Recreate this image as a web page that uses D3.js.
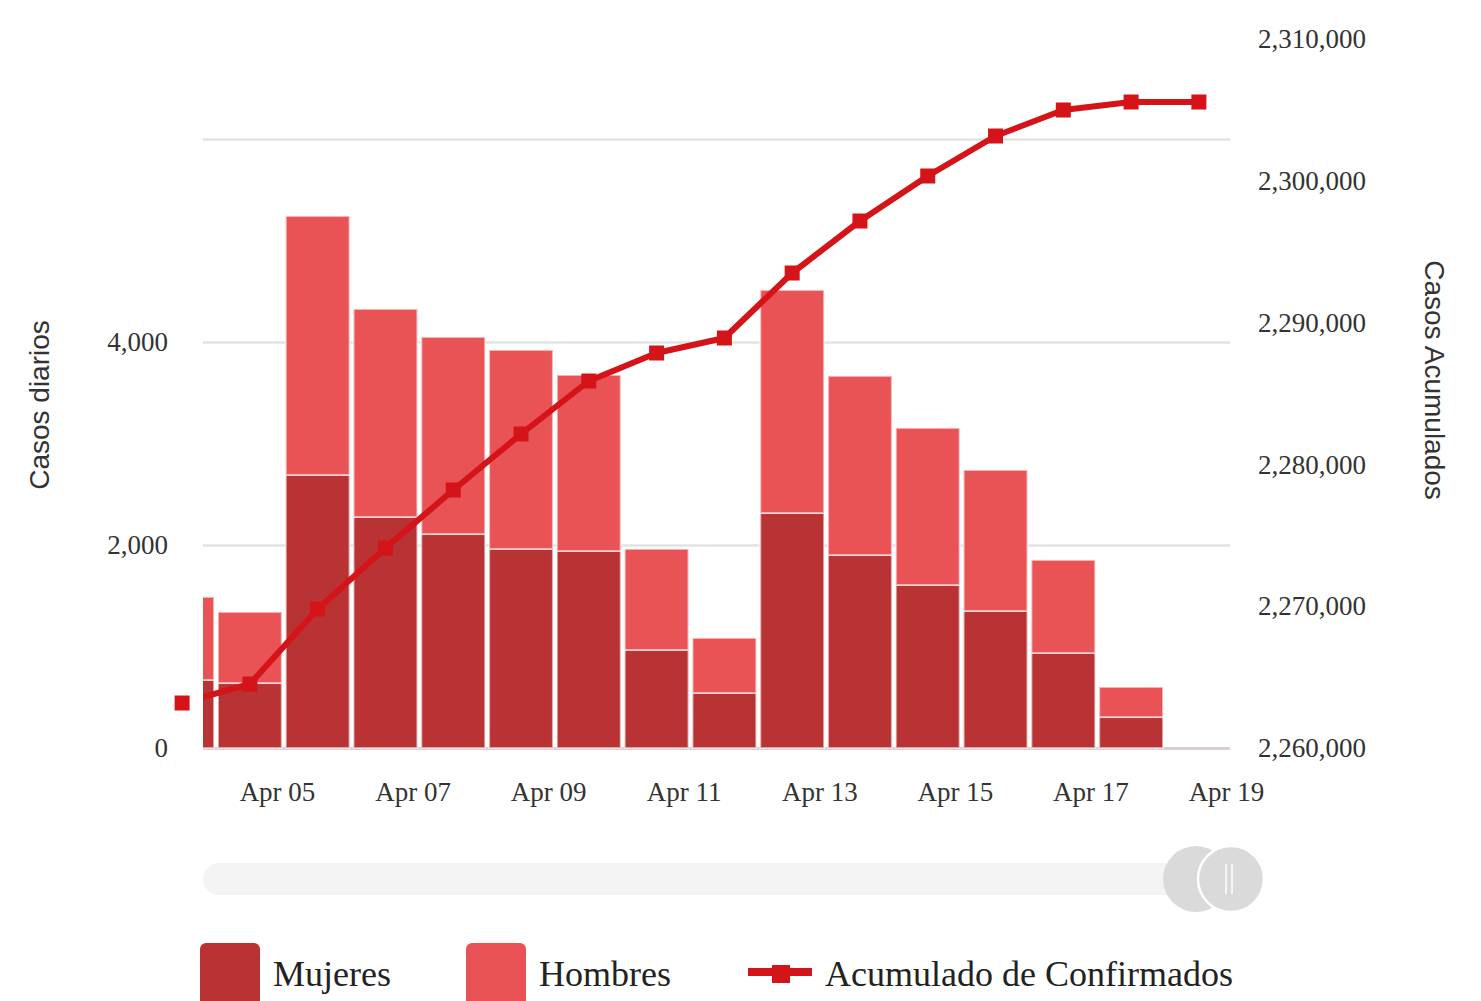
<!DOCTYPE html>
<html>
<head>
<meta charset="utf-8">
<script src="https://cdn.jsdelivr.net/npm/d3@7"></script>
<style>
  html, body { margin: 0; padding: 0; background: #fff; overflow: hidden; }
  svg { display: block; }
</style>
</head>
<body>
<svg id="chart" width="1481" height="1001"></svg>
<script>
// ---------- DATA ----------
const dates = ["2021-04-03","2021-04-04","2021-04-05","2021-04-06","2021-04-07","2021-04-08","2021-04-09","2021-04-10",
               "2021-04-11","2021-04-12","2021-04-13","2021-04-14","2021-04-15","2021-04-16","2021-04-17","2021-04-18"];
const mujeres = [670, 640, 2690, 2276, 2108, 1961, 1941, 966, 542, 2315, 1901, 1606, 1350, 936, 305, 0];
const hombres = [818, 700, 2551, 2049, 1941, 1960, 1734, 995, 542, 2197, 1764, 1547, 1389, 916, 296, 0];
const acumulado = [2263173, 2264513, 2269803, 2274104, 2278195, 2282144, 2285881, 2287856, 2288914,
                   2293498, 2297165, 2300339, 2303159, 2304993, 2305557, 2305557];
const xTickLabels = ["2021-04-05","2021-04-07","2021-04-09","2021-04-11","2021-04-13","2021-04-15","2021-04-17","2021-04-19"];
const leftTicks = [0, 2000, 4000];
const leftGrid = [0, 2000, 4000, 6000];
const rightTicks = [2260000, 2270000, 2280000, 2290000, 2300000, 2310000];
const seriesNames = ["Mujeres", "Hombres", "Acumulado de Confirmados"];
const colors = { mujeres: "#b93234", hombres: "#e95356", line: "#d41418" };

// ---------- LAYOUT ----------
const svg = d3.select("#chart");
const plot = { left: 203, right: 1230, top: 37.5, bottom: 748 };
const parse = d3.timeParse("%Y-%m-%d");
const data = dates.map((d, i) => ({ date: parse(d), m: mujeres[i], h: hombres[i], acc: acumulado[i] }));

const x = d3.scaleTime()
  .domain([parse("2021-04-05"), parse("2021-04-19")])
  .range([277, 1226]);
const cellShift = 0.6 * 864e5; // columns sit 0.6 day after the date tick
const xc = d => x(new Date(+d + cellShift));
const dayW = x(parse("2021-04-06")) - x(parse("2021-04-05"));
const barW = dayW - 4;

const yL = d3.scaleLinear().domain([0, 7000]).range([plot.bottom, plot.top]);
const yR = d3.scaleLinear().domain([2260000, 2310000]).range([plot.bottom, 39]);

const serif = "'Liberation Serif', 'Times New Roman', serif";
const sans = "'Liberation Sans', Arial, sans-serif";

svg.append("defs").append("clipPath").attr("id", "plotClip")
  .append("rect").attr("x", plot.left).attr("y", 0)
  .attr("width", plot.right - plot.left).attr("height", plot.bottom + 3);

// gridlines
const grid = svg.append("g").attr("transform", `translate(${plot.left},0)`)
  .call(d3.axisLeft(yL).tickValues(leftGrid).tickSize(-(plot.right - plot.left)).tickFormat(""));
grid.select(".domain").remove();
grid.selectAll(".tick line").attr("stroke", "#e3e3e3").attr("stroke-width", 2.5);
grid.selectAll(".tick").filter(d => d === 0).select("line").attr("stroke", "#dccfd0").attr("stroke-width", 3);

// bars
const bars = svg.append("g").attr("clip-path", "url(#plotClip)");
bars.selectAll("rect.m").data(data.filter(d => d.m > 0)).join("rect")
  .attr("class", "m")
  .attr("x", d => xc(d.date) - barW / 2)
  .attr("width", barW)
  .attr("y", d => yL(d.m))
  .attr("height", d => yL(0) - yL(d.m))
  .attr("fill", colors.mujeres)
  .attr("stroke", "rgba(255,255,255,0.55)").attr("stroke-width", 2);
bars.selectAll("rect.h").data(data.filter(d => d.h > 0)).join("rect")
  .attr("class", "h")
  .attr("x", d => xc(d.date) - barW / 2)
  .attr("width", barW)
  .attr("y", d => yL(d.m + d.h))
  .attr("height", d => yL(d.m) - yL(d.m + d.h))
  .attr("fill", colors.hombres)
  .attr("stroke", "rgba(255,255,255,0.55)").attr("stroke-width", 2);

// cumulative line
const line = d3.line().x(d => xc(d.date)).y(d => yR(d.acc));
svg.append("path").datum(data)
  .attr("clip-path", "url(#plotClip)")
  .attr("d", line)
  .attr("fill", "none")
  .attr("stroke", colors.line)
  .attr("stroke-width", 6)
  .attr("stroke-linejoin", "round");
const mk = 15;
svg.append("g").selectAll("rect").data(data).join("rect")
  .attr("x", d => xc(d.date) - mk / 2)
  .attr("y", d => yR(d.acc) - mk / 2)
  .attr("width", mk).attr("height", mk)
  .attr("fill", colors.line);

// axes
function styleAxis(g, size) {
  g.select(".domain").remove();
  g.selectAll(".tick line").remove();
  g.selectAll("text").attr("font-family", serif).attr("font-size", size).attr("fill", "#333");
}
svg.append("g").attr("transform", `translate(${plot.left},0)`)
  .call(d3.axisLeft(yL).tickValues(leftTicks).tickSize(0).tickPadding(35).tickFormat(d3.format(",")))
  .call(g => styleAxis(g, 27));
svg.append("g").attr("transform", `translate(${plot.right},0)`)
  .call(d3.axisRight(yR).tickValues(rightTicks).tickSize(0).tickPadding(28).tickFormat(d3.format(",")))
  .call(g => styleAxis(g, 27));
svg.append("g").attr("transform", `translate(0,${plot.bottom})`)
  .call(d3.axisBottom(x).tickValues(xTickLabels.map(parse)).tickSize(0).tickPadding(34).tickFormat(d3.timeFormat("%b %d")))
  .call(g => styleAxis(g, 27));

// axis titles
svg.append("text")
  .attr("transform", "translate(49,405) rotate(-90)")
  .attr("text-anchor", "middle")
  .attr("font-family", sans).attr("font-size", 28).attr("fill", "#333")
  .text("Casos diarios");
svg.append("text")
  .attr("transform", "translate(1425,380) rotate(90)")
  .attr("text-anchor", "middle")
  .attr("font-family", sans).attr("font-size", 28).attr("fill", "#333")
  .text("Casos Acumulados");

// scrollbar
const sb = svg.append("g");
sb.append("rect").attr("x", plot.left).attr("y", 863).attr("width", 1030).attr("height", 32)
  .attr("rx", 16).attr("fill", "#f4f4f4");
sb.append("circle").attr("cx", 1196).attr("cy", 879).attr("r", 33).attr("fill", "#dadada");
sb.append("circle").attr("cx", 1231).attr("cy", 879).attr("r", 33).attr("fill", "#dadada")
  .attr("stroke", "#fff").attr("stroke-width", 2.5);
sb.append("line").attr("x1", 1226).attr("x2", 1226).attr("y1", 864).attr("y2", 894).attr("stroke", "#f6f6f6").attr("stroke-width", 2);
sb.append("line").attr("x1", 1232).attr("x2", 1232).attr("y1", 864).attr("y2", 894).attr("stroke", "#f6f6f6").attr("stroke-width", 2);

// legend
const leg = svg.append("g");
const legItems = [
  { name: seriesNames[0], type: "box", color: colors.mujeres, x: 200 },
  { name: seriesNames[1], type: "box", color: colors.hombres, x: 466 },
  { name: seriesNames[2], type: "line", color: colors.line, x: 748 }
];
legItems.forEach(it => {
  const g = leg.append("g");
  if (it.type === "box") {
    g.append("rect").attr("x", it.x).attr("y", 943).attr("width", 60).attr("height", 80)
      .attr("rx", 6).attr("fill", it.color);
    g.append("text").attr("x", it.x + 73).attr("y", 986)
      .attr("font-family", serif).attr("font-size", 36).attr("fill", "#222").text(it.name);
  } else {
    g.append("line").attr("x1", it.x).attr("x2", it.x + 64).attr("y1", 972).attr("y2", 972)
      .attr("stroke", it.color).attr("stroke-width", 8);
    g.append("rect").attr("x", it.x + 24).attr("y", 965).attr("width", 18).attr("height", 18)
      .attr("fill", it.color);
    g.append("text").attr("x", it.x + 77).attr("y", 986)
      .attr("font-family", serif).attr("font-size", 36).attr("fill", "#222").text(it.name);
  }
});
</script>
</body>
</html>
